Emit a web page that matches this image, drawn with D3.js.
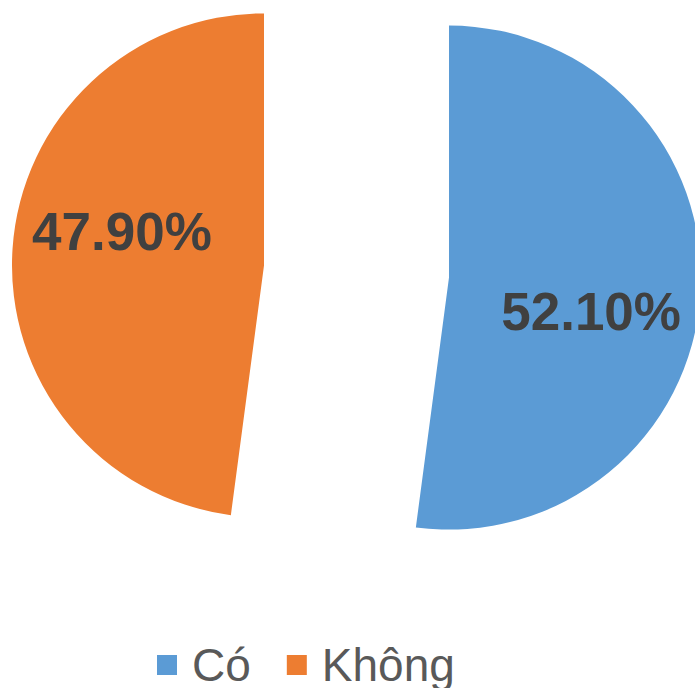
<!DOCTYPE html>
<html>
<head>
<meta charset="utf-8">
<script src="https://cdn.jsdelivr.net/npm/d3@7"></script>
<style>
  html, body { margin: 0; padding: 0; background: #fff; overflow: hidden; }
  svg { display: block; }
</style>
</head>
<body>
<svg id="chart" width="695" height="688"></svg>
<script>
// Survey answers and their shares (%)
const categories = ["Có", "Không"];
const values = [52.10, 47.90];
const colors = ["#5B9BD5", "#ED7D31"];

const width = 695, height = 688;
const cx = 356.5, cy = 271.5;    // pie centre
const radius = 252;
const explode = 92.7;             // distance each slice is pulled out
const labelRadius = 146;
const labelTurn = 9.5 * Math.PI / 180;

const svg = d3.select("#chart");

const color = d3.scaleOrdinal().domain(categories).range(colors);

const pie = d3.pie().sort(null).value(d => d.value);
const arcs = pie(categories.map((c, i) => ({ name: c, value: values[i] })));

const arc = d3.arc().innerRadius(0).outerRadius(radius);

const g = svg.append("g").attr("transform", `translate(${cx},${cy})`);

const slices = g.selectAll("g.slice")
  .data(arcs)
  .join("g")
  .attr("class", "slice")
  .attr("transform", d => {
    const mid = (d.startAngle + d.endAngle) / 2;
    return `translate(${explode * Math.sin(mid)},${-explode * Math.cos(mid)})`;
  });

slices.append("path")
  .attr("d", arc)
  .attr("fill", d => color(d.data.name));

slices.append("text")
  .attr("x", d => {
    const a = (d.startAngle + d.endAngle) / 2 + labelTurn;
    return labelRadius * Math.sin(a);
  })
  .attr("y", d => {
    const a = (d.startAngle + d.endAngle) / 2 + labelTurn;
    return -labelRadius * Math.cos(a);
  })
  .attr("text-anchor", "middle")
  .attr("dominant-baseline", "central")
  .attr("font-family", "Liberation Sans, Arial, sans-serif")
  .attr("font-weight", "bold")
  .attr("font-size", 53)
  .attr("fill", "#404040")
  .text(d => d.data.value.toFixed(2) + "%");

// Legend
const legend = svg.append("g").attr("transform", "translate(157,681)");
const legendFont = 46;
let xPos = 0;
categories.forEach((c, i) => {
  const item = legend.append("g").attr("transform", `translate(${xPos},0)`);
  item.append("rect")
    .attr("x", 0).attr("y", -26)
    .attr("width", 20).attr("height", 20)
    .attr("fill", color(c));
  const t = item.append("text")
    .attr("x", 35).attr("y", 0)
    .attr("font-family", "Liberation Sans, Arial, sans-serif")
    .attr("font-size", legendFont)
    .attr("fill", "#595959")
    .text(c);
  xPos += 35 + t.node().getComputedTextLength() + 36;
});
</script>
</body>
</html>
